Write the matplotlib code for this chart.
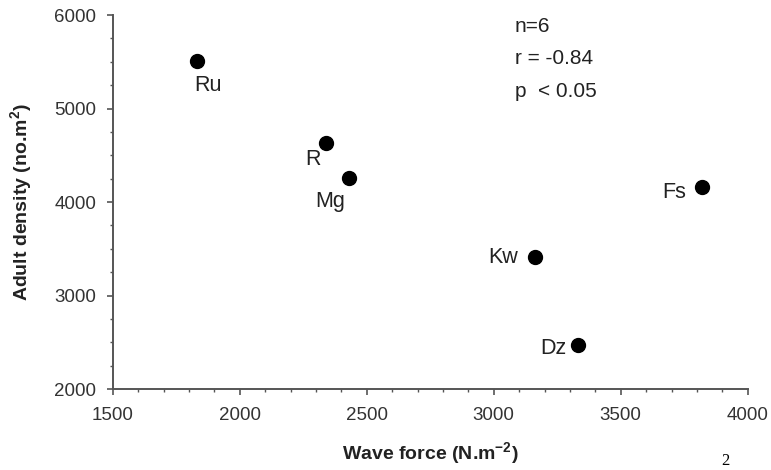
import matplotlib
matplotlib.use("Agg")
import matplotlib.pyplot as plt
from matplotlib.ticker import MultipleLocator

plt.rcParams['font.family'] = ['Liberation Sans', 'DejaVu Sans']
plt.rcParams['mathtext.fontset'] = 'custom'
plt.rcParams['mathtext.rm'] = 'Liberation Sans'
plt.rcParams['mathtext.bf'] = 'Liberation Sans:bold'

# ---- data ----
sites = ["Ru", "R", "Mg", "Kw", "Fs", "Dz"]
wave_force = [1832, 2340, 2430, 3163, 3821, 3333]
density = [5508, 4633, 4258, 3410, 4159, 2475]
stats_lines = ["n=6", "r = -0.84", "p  < 0.05"]
x_ticks = [1500, 2000, 2500, 3000, 3500, 4000]
y_ticks = [2000, 3000, 4000, 5000, 6000]

# ---- label placement (style) ----
label_style = {
    "Ru": dict(off=(11, -24), ha="center", va="center"),
    "R":  dict(off=(-13, -17), ha="center", va="center"),
    "Mg": dict(off=(-19, -24), ha="center", va="center"),
    "Kw": dict(off=(-17, 0), ha="right", va="center"),
    "Fs": dict(off=(-16, -5), ha="right", va="center"),
    "Dz": dict(off=(-12, -4), ha="right", va="center"),
}

axis_col = "#555555"
text_col = "#333333"

fig = plt.figure(figsize=(7.71, 4.70), dpi=100)
ax = fig.add_axes([0.1462, 0.1723, 0.8236, 0.7957])

ax.scatter(wave_force, density, s=100, color="black", zorder=3, clip_on=False)

for name, xv, yv in zip(sites, wave_force, density):
    st = label_style[name]
    ax.annotate(name, (xv, yv), xytext=st["off"], textcoords="offset pixels",
                ha=st["ha"], va=st["va"], fontsize=15.5, color="#222222")

ax.set_xlim(1500, 4000)
ax.set_ylim(2000, 6000)
ax.set_xticks(x_ticks)
ax.set_yticks(y_ticks)
ax.xaxis.set_minor_locator(MultipleLocator(100))
ax.yaxis.set_minor_locator(MultipleLocator(250))

for s in ["top", "right"]:
    ax.spines[s].set_visible(False)
for s in ["left", "bottom"]:
    ax.spines[s].set_color(axis_col)
    ax.spines[s].set_linewidth(1.4)

ax.tick_params(axis="both", which="major", direction="out", length=4.5, width=1.2,
               colors=axis_col, labelcolor=text_col, labelsize=13.5)
ax.tick_params(axis="both", which="minor", direction="out", length=2.2, width=1.0,
               colors=axis_col)
ax.tick_params(axis="x", which="major", pad=8.5)
ax.tick_params(axis="y", which="major", pad=7.5)

ax.set_xlabel(r"Wave force (N.m$^{\mathbf{-2}}$)", fontsize=14, fontweight="bold",
              color="#222222", labelpad=12)
ax.set_ylabel(r"Adult density (no.m$^{\mathbf{2}}$)", fontsize=14, fontweight="bold",
              color="#222222", labelpad=14)

# stats annotation
y0 = 1 - 26.5 / 470
for i, line in enumerate(stats_lines):
    fig.text(515 / 771, y0 - i * 32.5 / 470, line, fontsize=15, color="#222222",
             ha="left", va="center")

# stray caption fragment at bottom edge
fig.text(725 / 771, 0.003, "2", fontsize=12, color="black", ha="center", va="bottom",
         family=["Liberation Serif", "DejaVu Serif"])

fig.savefig("out.png", dpi=100)
